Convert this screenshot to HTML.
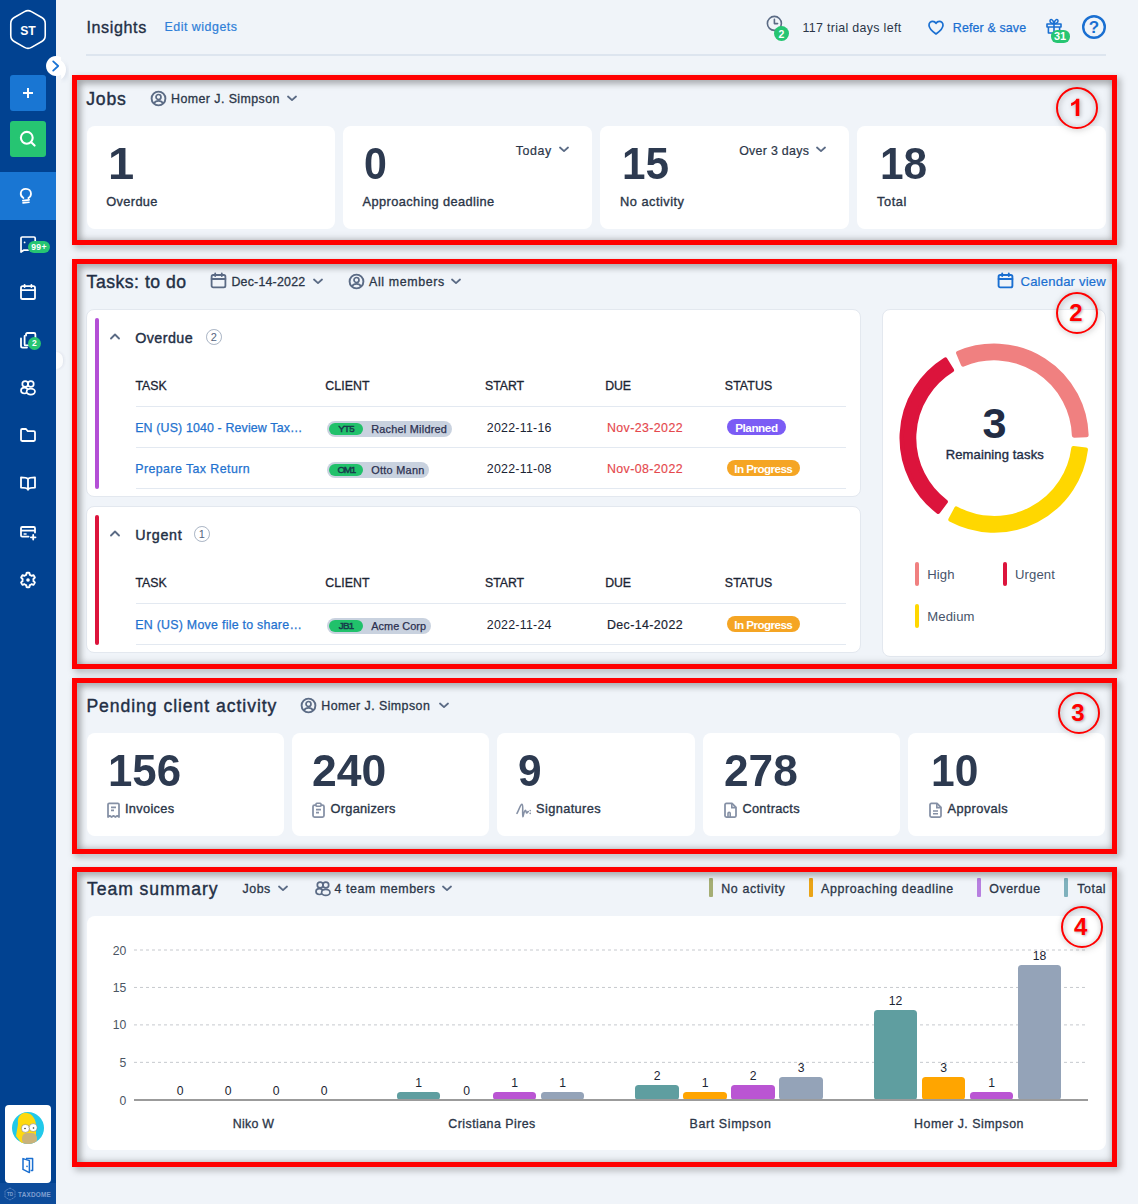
<!DOCTYPE html>
<html><head><meta charset="utf-8"><title>Insights</title>
<style>
html,body{margin:0;padding:0;}
body{width:1138px;height:1204px;position:relative;overflow:hidden;background:#f0f4f9;font-family:"Liberation Sans",sans-serif;}
.t{position:absolute;white-space:nowrap;}
.card{background:#fff;border-radius:8px;}
.red{position:absolute;border:5px solid #ff0000;box-sizing:border-box;filter:drop-shadow(3px 3px 3.5px rgba(0,0,0,0.32));pointer-events:none;}
.redin{position:absolute;box-shadow:inset 0 0 9px rgba(0,0,0,0.22);pointer-events:none;}
.ann{position:absolute;box-sizing:border-box;border:2px solid #ff0000;border-radius:50%;filter:drop-shadow(1px 1px 3px rgba(0,0,0,0.28)) drop-shadow(0 0 2px rgba(0,0,0,0.12));}
</style></head><body>
<div style="position:absolute;left:0px;top:0px;width:56px;height:1204px;background:#014291;"></div>
<svg style="position:absolute;left:0px;top:0px;" width="56" height="60" viewBox="0 0 56 60" fill="none"><path d="M24.54 11.60 Q28.00 9.60 31.46 11.60 L41.77 17.55 Q45.23 19.55 45.23 23.55 L45.23 35.45 Q45.23 39.45 41.77 41.45 L31.46 47.40 Q28.00 49.40 24.54 47.40 L14.23 41.45 Q10.77 39.45 10.77 35.45 L10.77 23.55 Q10.77 19.55 14.23 17.55 Z" stroke="#fff" stroke-width="1.6"/></svg>
<span class="t" style="left:20.20px;top:25.00px;font-size:12.2px;line-height:12.2px;color:#fff;font-weight:bold;">ST</span>
<div style="position:absolute;left:10px;top:75px;width:36px;height:36px;background:#1976d3;border-radius:3px;"></div>
<svg style="position:absolute;left:22px;top:87px;" width="12" height="12" viewBox="0 0 12 12" fill="none"><path d="M6 1 V11 M1 6 H11" stroke="#fff" stroke-width="2"/></svg>
<div style="position:absolute;left:10px;top:121px;width:36px;height:36px;background:#26c572;border-radius:3px;"></div>
<svg style="position:absolute;left:18px;top:129px;" width="20" height="20" viewBox="0 0 20 20" fill="none"><circle cx="8.8" cy="8.8" r="5.9" stroke="#fff" stroke-width="2.1"/><path d="M13.2 13.2 L16.6 16.6" stroke="#fff" stroke-width="2.1" stroke-linecap="round"/></svg>
<div style="position:absolute;left:0px;top:172px;width:56px;height:48px;background:#1976d3;"></div>
<svg style="position:absolute;left:16px;top:184px;" width="22" height="22" viewBox="0 0 22 22" fill="none"><path d="M7.4 14.0 C5.4 12.8 4.5 10.9 4.8 8.9 C5.2 6.5 7.3 4.8 9.9 4.8 C12.8 4.8 15.0 7.0 15.0 9.8 C15.0 11.7 14.0 13.2 12.4 14.1" stroke="#fff" stroke-width="1.8" stroke-linecap="round"/><path d="M6.8 16.6 L13.2 15.9 M7.0 18.9 L13.0 18.3" stroke="#fff" stroke-width="1.6" stroke-linecap="round"/></svg>
<svg style="position:absolute;left:19px;top:235px;" width="20" height="18" viewBox="0 0 20 18" fill="none"><path d="M9 15.2 H4.6 L2 17 V3.2 Q2 2 3.2 2 H15 Q16.2 2 16.2 3.2 V6" stroke="#fff" stroke-width="1.7" stroke-linejoin="round" stroke-linecap="round"/><circle cx="5.6" cy="7.4" r="0.9" fill="#fff"/></svg>
<div style="position:absolute;left:28px;top:241px;width:22px;height:11.5px;background:#26c572;border-radius:6px;"></div>
<span class="t" style="left:31.20px;top:243.00px;font-size:8.6px;line-height:8.6px;color:#fff;font-weight:bold;letter-spacing:0.337px;">99+</span>
<svg style="position:absolute;left:19px;top:283px;" width="18" height="18" viewBox="0 0 18 18" fill="none"><rect x="2" y="3.2" width="14" height="12.8" rx="1.6" stroke="#fff" stroke-width="1.8"/><path d="M2 7.2 H16 M5.6 1.8 V4 M12.4 1.8 V4" stroke="#fff" stroke-width="1.8" stroke-linecap="round"/></svg>
<svg style="position:absolute;left:19px;top:331px;" width="18" height="18" viewBox="0 0 18 18" fill="none"><path d="M7 4.6 V3.4 Q7 2 8.4 2 H15 Q16.4 2 16.4 3.4 V9" stroke="#fff" stroke-width="1.8" stroke-linecap="round"/><path d="M5.6 5 V13.4 Q5.6 14.4 6.6 14.4 H9" stroke="#fff" stroke-width="1.8" stroke-linecap="round"/><path d="M2 7.4 V15 Q2 16.6 3.6 16.6 H8" stroke="#fff" stroke-width="1.8" stroke-linecap="round"/></svg>
<div style="position:absolute;left:27.9px;top:336.5px;width:13px;height:13px;background:#26c572;border-radius:50%;"></div>
<span class="t" style="left:32.04px;top:339.00px;font-size:8.5px;line-height:8.5px;color:#fff;font-weight:bold;">2</span>
<svg style="position:absolute;left:19px;top:379px;" width="18" height="18" viewBox="0 0 18 18" fill="none"><circle cx="6.2" cy="5" r="2.9" stroke="#fff" stroke-width="1.7"/><circle cx="11.8" cy="5" r="2.9" stroke="#fff" stroke-width="1.7"/><ellipse cx="5.4" cy="11.6" rx="3.4" ry="2.9" stroke="#fff" stroke-width="1.7"/><ellipse cx="11.8" cy="12.6" rx="4.2" ry="3" stroke="#fff" stroke-width="1.7" fill="#014291"/></svg>
<svg style="position:absolute;left:19px;top:427px;" width="18" height="16" viewBox="0 0 18 16" fill="none"><path d="M2 3.2 Q2 2 3.2 2 H7 L8.8 4.2 H14.8 Q16 4.2 16 5.4 V12.8 Q16 14 14.8 14 H3.2 Q2 14 2 12.8 Z" stroke="#fff" stroke-width="1.8" stroke-linejoin="round"/></svg>
<svg style="position:absolute;left:19px;top:475px;" width="18" height="18" viewBox="0 0 18 18" fill="none"><path d="M9 4 Q7.6 2.4 2 2.4 V12.6 Q7.6 12.6 9 14.4 Q10.4 12.6 16 12.6 V2.4 Q10.4 2.4 9 4 Z M9 4 V15.6" stroke="#fff" stroke-width="1.8" stroke-linejoin="round"/></svg>
<svg style="position:absolute;left:19px;top:525px;" width="18" height="17" viewBox="0 0 18 17" fill="none"><path d="M9.6 11.6 H3.2 Q2 11.6 2 10.4 V3.2 Q2 2 3.2 2 H14.8 Q16 2 16 3.2 V7.6" stroke="#fff" stroke-width="1.8" stroke-linecap="round"/><path d="M2 5.6 H16" stroke="#fff" stroke-width="1.8"/><path d="M4.6 9 H7.6" stroke="#fff" stroke-width="1.5"/><path d="M14.2 10 V14.6 M11.9 12.3 H16.5" stroke="#fff" stroke-width="1.8" stroke-linecap="round"/></svg>
<svg style="position:absolute;left:18px;top:570px;" width="20" height="20" viewBox="0 0 20 20" fill="none"><path d="M10.00 2.75 L10.47 2.77 L10.95 2.81 L11.41 2.89 L11.64 3.87 L11.75 4.84 L12.09 4.96 L12.41 5.11 L12.72 5.28 L13.03 5.47 L13.32 5.68 L13.59 5.90 L14.49 5.51 L15.45 5.22 L15.75 5.59 L16.03 5.97 L16.28 6.37 L16.50 6.79 L16.70 7.23 L16.87 7.67 L16.13 8.36 L15.35 8.94 L15.40 9.29 L15.44 9.64 L15.45 10.00 L15.44 10.36 L15.40 10.71 L15.35 11.06 L16.13 11.64 L16.87 12.33 L16.70 12.77 L16.50 13.21 L16.28 13.62 L16.03 14.03 L15.75 14.41 L15.45 14.78 L14.49 14.49 L13.59 14.10 L13.32 14.32 L13.03 14.53 L12.72 14.72 L12.41 14.89 L12.09 15.04 L11.75 15.16 L11.64 16.13 L11.41 17.11 L10.95 17.19 L10.47 17.23 L10.00 17.25 L9.53 17.23 L9.05 17.19 L8.59 17.11 L8.36 16.13 L8.25 15.16 L7.91 15.04 L7.59 14.89 L7.28 14.72 L6.97 14.53 L6.68 14.32 L6.41 14.10 L5.51 14.49 L4.55 14.78 L4.25 14.41 L3.97 14.03 L3.72 13.63 L3.50 13.21 L3.30 12.77 L3.13 12.33 L3.87 11.64 L4.65 11.06 L4.60 10.71 L4.56 10.36 L4.55 10.00 L4.56 9.64 L4.60 9.29 L4.65 8.94 L3.87 8.36 L3.13 7.67 L3.30 7.23 L3.50 6.79 L3.72 6.37 L3.97 5.97 L4.25 5.59 L4.55 5.22 L5.51 5.51 L6.41 5.90 L6.68 5.68 L6.97 5.47 L7.27 5.28 L7.59 5.11 L7.91 4.96 L8.25 4.84 L8.36 3.87 L8.59 2.89 L9.05 2.81 L9.53 2.77 Z" stroke="#fff" stroke-width="1.9" stroke-linejoin="round"/><circle cx="10" cy="10" r="1.8" fill="#fff"/></svg>
<svg style="position:absolute;left:36px;top:46px;" width="44" height="46" viewBox="0 0 44 46" fill="none"><defs><filter id="cbs" x="-30%" y="-30%" width="160%" height="160%"><feGaussianBlur stdDeviation="2"/></filter></defs><path d="M25 11.4 L25 14.6 Q30 18 30 24 Q30 29.5 25.4 33.2 L25 30 Z" fill="#8a9ab8" opacity="0.25" filter="url(#cbs)" transform="translate(1.5 2)"/><path d="M20 10 A10 10 0 1 0 25 28.66 L25.3 33.2 Q30.2 29 30 23.4 Q29.8 17.6 25 14.6 L25 11.34 A10 10 0 0 0 20 10 Z" fill="#fff"/><path d="M17.2 15.4 L22.2 20 L17.2 24.6" stroke="#1a73d4" stroke-width="1.8" stroke-linecap="round" stroke-linejoin="round"/></svg>
<div style="position:absolute;left:56px;top:352px;width:6.5px;height:17px;background:#fff;border-radius:0 9px 9px 0;opacity:0.75;box-shadow:1px 0 3px rgba(40,60,100,0.12);"></div>
<div style="position:absolute;left:5px;top:1105px;width:46px;height:78px;background:#fff;border-radius:4px;"></div>
<svg style="position:absolute;left:12px;top:1112px;" width="32" height="32" viewBox="0 0 32 32" fill="none"><defs><clipPath id="av"><circle cx="16" cy="16" r="16"/></clipPath></defs><g clip-path="url(#av)"><rect width="32" height="32" fill="#22c9ea"/><path d="M6 12 C5 4 10 0 15 1 C21 2 24 8 24 14 L24 24 L10 32 L4 24 Z" fill="#fed90f"/><rect x="10" y="21" width="15" height="12" rx="5" fill="#c9b27a"/><circle cx="13.4" cy="16.4" r="4" fill="#fff" stroke="#555" stroke-width="0.4"/><circle cx="21.2" cy="15.6" r="4" fill="#fff" stroke="#555" stroke-width="0.4"/><circle cx="13" cy="16.5" r="0.8" fill="#333"/><circle cx="21.5" cy="16" r="0.8" fill="#333"/></g></svg>
<svg style="position:absolute;left:21px;top:1156px;" width="14" height="18" viewBox="0 0 14 18" fill="none"><path d="M5 2.4 H11.6 V14.6 H9.6" stroke="#1a6fd1" stroke-width="1.5" stroke-linejoin="round"/><path d="M2 2.6 L8.4 4.6 V16.6 L2 13.4 Z" stroke="#1a6fd1" stroke-width="1.5" stroke-linejoin="round"/><circle cx="6" cy="10.4" r="0.8" fill="#1a6fd1"/></svg>
<div style="position:absolute;left:0px;top:1183px;width:56px;height:21px;background:#0d4c9b;"></div>
<svg style="position:absolute;left:4px;top:1187px;" width="12" height="14" viewBox="0 0 12 14" fill="none"><path d="M6 1 L11 3.9 V10.1 L6 13 L1 10.1 V3.9 Z" stroke="#7f9fd0" stroke-width="0.7" stroke-dasharray="1.2 0.6"/></svg>
<span class="t" style="left:6.93px;top:1193.00px;font-size:4.6px;line-height:4.6px;color:#7f9fd0;font-weight:bold;">TD</span>
<span class="t" style="left:18.00px;top:1192.00px;font-size:6.4px;line-height:6.4px;color:#7f9fd0;font-weight:bold;letter-spacing:0.211px;">TAXDOME</span>
<span class="t" style="left:86.40px;top:19.00px;font-size:16.1px;line-height:16.1px;color:#232f45;letter-spacing:0.627px;-webkit-text-stroke:0.35px #232f45;">Insights</span>
<span class="t" style="left:164.50px;top:21.00px;font-size:12.4px;line-height:12.4px;color:#2f7fd8;letter-spacing:0.512px;-webkit-text-stroke:0.2px #2f7fd8;">Edit widgets</span>
<div style="position:absolute;left:86px;top:54px;width:1020px;height:2px;background:#dde5ef;"></div>
<svg style="position:absolute;left:765px;top:14px;" width="20" height="20" viewBox="0 0 20 20" fill="none"><circle cx="9.4" cy="9.4" r="7" stroke="#5b6b85" stroke-width="1.6"/><path d="M9.4 5.4 V9.6 H12.6" stroke="#5b6b85" stroke-width="1.6" stroke-linecap="round" stroke-linejoin="round"/></svg>
<div style="position:absolute;left:773.8px;top:26.4px;width:15px;height:15px;background:#26c572;border-radius:50%;"></div>
<span class="t" style="left:778.38px;top:29.00px;font-size:10.5px;line-height:10.5px;color:#fff;font-weight:bold;">2</span>
<span class="t" style="left:802.50px;top:22.00px;font-size:12.4px;line-height:12.4px;color:#2b3648;letter-spacing:0.325px;">117 trial days left</span>
<svg style="position:absolute;left:927px;top:19px;" width="18" height="17" viewBox="0 0 18 17" fill="none"><path d="M9 15 C4 11.4 2 8.8 2 6.2 C2 4 3.7 2.4 5.7 2.4 C7.1 2.4 8.3 3.1 9 4.4 C9.7 3.1 10.9 2.4 12.3 2.4 C14.3 2.4 16 4 16 6.2 C16 8.8 14 11.4 9 15 Z" stroke="#1a6fd1" stroke-width="1.7" stroke-linejoin="round"/></svg>
<span class="t" style="left:952.80px;top:22.00px;font-size:12.4px;line-height:12.4px;color:#1a6fd1;letter-spacing:0.152px;-webkit-text-stroke:0.25px #1a6fd1;">Refer &amp; save</span>
<svg style="position:absolute;left:1045px;top:17px;" width="18" height="18" viewBox="0 0 18 18" fill="none"><path d="M2 7 H16 V10 H2 Z M3.4 10 V16 H14.6 V10 M9 7 V16" stroke="#1a6fd1" stroke-width="1.6" stroke-linejoin="round"/><path d="M9 6.6 C7 6.6 4.6 5.6 5 3.6 C5.4 1.8 8 2 9 6.6 C10 2 12.6 1.8 13 3.6 C13.4 5.6 11 6.6 9 6.6 Z" stroke="#1a6fd1" stroke-width="1.5" stroke-linejoin="round"/></svg>
<div style="position:absolute;left:1050.5px;top:30.4px;width:19px;height:12.4px;background:#26c572;border-radius:6.2px;"></div>
<span class="t" style="left:1053.88px;top:31.00px;font-size:11px;line-height:11px;color:#fff;font-weight:bold;">31</span>
<svg style="position:absolute;left:1081px;top:14px;" width="26" height="26" viewBox="0 0 26 26" fill="none"><circle cx="13" cy="13" r="10.8" stroke="#1a6fd1" stroke-width="2.4"/></svg>
<span class="t" style="left:1088.81px;top:19.00px;font-size:17px;line-height:17px;color:#1a6fd1;font-weight:bold;">?</span>
<span class="t" style="left:86.20px;top:91.00px;font-size:17.6px;line-height:17.6px;color:#232f45;letter-spacing:0.831px;-webkit-text-stroke:0.4px #232f45;">Jobs</span>
<svg style="position:absolute;left:150.2px;top:89.5px;" width="17" height="17" viewBox="0 0 17 17" fill="none"><circle cx="8.5" cy="8.5" r="6.9" stroke="#5b6b85" stroke-width="1.9"/><circle cx="8.5" cy="7" r="2.5" stroke="#5b6b85" stroke-width="1.7"/><path d="M3.9 13.6 C5 11.4 6.6 10.9 8.5 10.9 C10.4 10.9 12 11.4 13.1 13.6" stroke="#5b6b85" stroke-width="1.7"/></svg>
<span class="t" style="left:171.00px;top:93.00px;font-size:12.4px;line-height:12.4px;color:#2b3648;letter-spacing:0.438px;-webkit-text-stroke:0.3px #2b3648;">Homer J. Simpson</span>
<svg style="position:absolute;left:287.3px;top:94.5px;" width="10" height="7.6" viewBox="0 0 10 7.6" fill="none"><path d="M1 1.5 L5.0 5.1 L9 1.5" stroke="#5b6b85" stroke-width="1.8" stroke-linecap="round" stroke-linejoin="round"/></svg>
<div class="card" style="position:absolute;left:86.5px;top:126px;width:248.5px;height:102.6px;"></div>
<div class="card" style="position:absolute;left:343.4px;top:126px;width:248.5px;height:102.6px;"></div>
<div class="card" style="position:absolute;left:600.3px;top:126px;width:248.5px;height:102.6px;"></div>
<div class="card" style="position:absolute;left:857.2px;top:126px;width:248.5px;height:102.6px;"></div>
<span class="t" style="left:107.60px;top:143.00px;font-size:43.6px;line-height:43.6px;color:#2d3a50;font-weight:bold;transform:scaleX(1.0800);transform-origin:0 50%;">1</span>
<span class="t" style="left:106.30px;top:196.00px;font-size:12.8px;line-height:12.8px;color:#2b3648;letter-spacing:0.344px;-webkit-text-stroke:0.35px #2b3648;">Overdue</span>
<span class="t" style="left:364.20px;top:143.00px;font-size:43.6px;line-height:43.6px;color:#2d3a50;font-weight:bold;transform:scaleX(0.9422);transform-origin:0 50%;">0</span>
<span class="t" style="left:362.60px;top:196.00px;font-size:12.8px;line-height:12.8px;color:#2b3648;letter-spacing:0.408px;-webkit-text-stroke:0.35px #2b3648;">Approaching deadline</span>
<span class="t" style="left:622.20px;top:143.00px;font-size:43.6px;line-height:43.6px;color:#2d3a50;font-weight:bold;transform:scaleX(0.9690);transform-origin:0 50%;">15</span>
<span class="t" style="left:620.00px;top:196.00px;font-size:12.8px;line-height:12.8px;color:#2b3648;letter-spacing:0.497px;-webkit-text-stroke:0.35px #2b3648;">No activity</span>
<span class="t" style="left:879.50px;top:143.00px;font-size:43.6px;line-height:43.6px;color:#2d3a50;font-weight:bold;transform:scaleX(0.9731);transform-origin:0 50%;">18</span>
<span class="t" style="left:877.00px;top:196.00px;font-size:12.8px;line-height:12.8px;color:#2b3648;letter-spacing:0.592px;-webkit-text-stroke:0.35px #2b3648;">Total</span>
<span class="t" style="left:515.70px;top:145.00px;font-size:12.4px;line-height:12.4px;color:#2b3648;letter-spacing:0.582px;-webkit-text-stroke:0.2px #2b3648;">Today</span>
<svg style="position:absolute;left:559.4px;top:146.3px;" width="10" height="7.6" viewBox="0 0 10 7.6" fill="none"><path d="M1 1.5 L5.0 5.1 L9 1.5" stroke="#5b6b85" stroke-width="1.8" stroke-linecap="round" stroke-linejoin="round"/></svg>
<span class="t" style="left:739.20px;top:145.00px;font-size:12.4px;line-height:12.4px;color:#2b3648;letter-spacing:0.286px;-webkit-text-stroke:0.2px #2b3648;">Over 3 days</span>
<svg style="position:absolute;left:816.3px;top:146.3px;" width="10" height="7.6" viewBox="0 0 10 7.6" fill="none"><path d="M1 1.5 L5.0 5.1 L9 1.5" stroke="#5b6b85" stroke-width="1.8" stroke-linecap="round" stroke-linejoin="round"/></svg>
<span class="t" style="left:86.60px;top:274.00px;font-size:17.6px;line-height:17.6px;color:#232f45;letter-spacing:0.507px;-webkit-text-stroke:0.4px #232f45;">Tasks: to do</span>
<svg style="position:absolute;left:210.3px;top:272.4px;" width="17" height="17" viewBox="0 0 17 17" fill="none"><rect x="1.6" y="3" width="13.8" height="12.4" rx="1.6" stroke="#5b6b85" stroke-width="1.8"/><path d="M1.6 7 H15.4 M5.2 1.4 V4 M11.8 1.4 V4" stroke="#5b6b85" stroke-width="1.8" stroke-linecap="round"/></svg>
<span class="t" style="left:231.40px;top:276.00px;font-size:12.4px;line-height:12.4px;color:#2b3648;letter-spacing:0.210px;-webkit-text-stroke:0.3px #2b3648;">Dec-14-2022</span>
<svg style="position:absolute;left:312.5px;top:277.5px;" width="10" height="7.6" viewBox="0 0 10 7.6" fill="none"><path d="M1 1.5 L5.0 5.1 L9 1.5" stroke="#5b6b85" stroke-width="1.8" stroke-linecap="round" stroke-linejoin="round"/></svg>
<svg style="position:absolute;left:347.9px;top:272.5px;" width="17" height="17" viewBox="0 0 17 17" fill="none"><circle cx="8.5" cy="8.5" r="6.9" stroke="#5b6b85" stroke-width="1.9"/><circle cx="8.5" cy="7" r="2.5" stroke="#5b6b85" stroke-width="1.7"/><path d="M3.9 13.6 C5 11.4 6.6 10.9 8.5 10.9 C10.4 10.9 12 11.4 13.1 13.6" stroke="#5b6b85" stroke-width="1.7"/></svg>
<span class="t" style="left:369.00px;top:276.00px;font-size:12.4px;line-height:12.4px;color:#2b3648;letter-spacing:0.645px;-webkit-text-stroke:0.3px #2b3648;">All members</span>
<svg style="position:absolute;left:451px;top:277.5px;" width="10" height="7.6" viewBox="0 0 10 7.6" fill="none"><path d="M1 1.5 L5.0 5.1 L9 1.5" stroke="#5b6b85" stroke-width="1.8" stroke-linecap="round" stroke-linejoin="round"/></svg>
<svg style="position:absolute;left:996.5px;top:272.4px;" width="17" height="17" viewBox="0 0 17 17" fill="none"><rect x="1.6" y="3" width="13.8" height="12.4" rx="1.6" stroke="#1a6fd1" stroke-width="1.9"/><path d="M1.6 7 H15.4 M5.2 1.4 V4 M11.8 1.4 V4" stroke="#1a6fd1" stroke-width="1.9" stroke-linecap="round"/></svg>
<span class="t" style="left:1020.50px;top:275.00px;font-size:13.1px;line-height:13.1px;color:#1a6fd1;letter-spacing:0.192px;-webkit-text-stroke:0.2px #1a6fd1;">Calendar view</span>
<div class="card" style="position:absolute;left:86px;top:309.3px;width:775.3px;height:188px;border:1px solid #e3e8ef;box-sizing:border-box;"></div>
<div class="card" style="position:absolute;left:86px;top:505.8px;width:775.3px;height:147.7px;border:1px solid #e3e8ef;box-sizing:border-box;"></div>
<div style="position:absolute;left:95px;top:318px;width:4px;height:171px;background:#b44fd6;border-radius:2px;"></div>
<div style="position:absolute;left:95px;top:515px;width:4px;height:130px;background:#dc143c;border-radius:2px;"></div>
<svg style="position:absolute;left:110.2px;top:333.1px;" width="10" height="8" viewBox="0 0 10 8" fill="none"><path d="M1 5.5 L5.0 1.5 L9 5.5" stroke="#5b6b85" stroke-width="1.8" stroke-linecap="round" stroke-linejoin="round"/></svg>
<span class="t" style="left:135.20px;top:331.00px;font-size:14.3px;line-height:14.3px;color:#232f45;letter-spacing:0.450px;-webkit-text-stroke:0.4px #232f45;">Overdue</span>
<div style="position:absolute;left:205.89999999999998px;top:329.1px;width:15.8px;height:15.8px;border:1px solid #a9b4c4;border-radius:50%;box-sizing:border-box;"></div>
<span class="t" style="left:210.74px;top:332.00px;font-size:11px;line-height:11px;color:#56657e;">2</span>
<span class="t" style="left:135.40px;top:380.00px;font-size:12.3px;line-height:12.3px;color:#1b2433;letter-spacing:0.071px;-webkit-text-stroke:0.3px #1b2433;">TASK</span>
<span class="t" style="left:325.20px;top:380.00px;font-size:12.3px;line-height:12.3px;color:#1b2433;letter-spacing:0.126px;-webkit-text-stroke:0.3px #1b2433;">CLIENT</span>
<span class="t" style="left:485.00px;top:380.00px;font-size:12.3px;line-height:12.3px;color:#1b2433;letter-spacing:-0.037px;-webkit-text-stroke:0.3px #1b2433;">START</span>
<span class="t" style="left:605.30px;top:380.00px;font-size:12.3px;line-height:12.3px;color:#1b2433;letter-spacing:-0.157px;-webkit-text-stroke:0.3px #1b2433;">DUE</span>
<span class="t" style="left:724.80px;top:380.00px;font-size:12.3px;line-height:12.3px;color:#1b2433;letter-spacing:0.134px;-webkit-text-stroke:0.3px #1b2433;">STATUS</span>
<div style="position:absolute;left:135.5px;top:405.9px;width:710px;height:1.2px;background:#e3e9f1;"></div>
<span class="t" style="left:135.20px;top:422.00px;font-size:12.4px;line-height:12.4px;color:#1f72cf;letter-spacing:0.143px;-webkit-text-stroke:0.25px #1f72cf;">EN (US) 1040 - Review Tax…</span>
<div style="position:absolute;left:327px;top:421.2px;width:125.2px;height:16px;background:#c9d2df;border-radius:8px;"></div>
<div style="position:absolute;left:329.2px;top:423.3px;width:34px;height:11.8px;background:#21c16b;border-radius:6px;"></div>
<span class="t" style="left:338.30px;top:424.00px;font-size:9.8px;line-height:9.8px;color:#173a4c;letter-spacing:-0.725px;-webkit-text-stroke:0.45px #173a4c;">YT5</span>
<span class="t" style="left:371.20px;top:424.00px;font-size:10.9px;line-height:10.9px;color:#2b3050;letter-spacing:0.236px;-webkit-text-stroke:0.25px #2b3050;">Rachel Mildred</span>
<span class="t" style="left:486.80px;top:422.00px;font-size:12.4px;line-height:12.4px;color:#1b2433;letter-spacing:0.249px;">2022-11-16</span>
<span class="t" style="left:607.00px;top:422.00px;font-size:12.4px;line-height:12.4px;color:#e5484d;letter-spacing:0.392px;-webkit-text-stroke:0.15px #e5484d;">Nov-23-2022</span>
<div style="position:absolute;left:726.6px;top:419.2px;width:59.6px;height:16px;background:#7b5cf5;border-radius:8px;"></div>
<span class="t" style="left:735.15px;top:422.00px;font-size:11.7px;line-height:11.7px;color:#fff;font-weight:bold;letter-spacing:-0.430px;">Planned</span>
<div style="position:absolute;left:135.5px;top:446.79999999999995px;width:710px;height:1.2px;background:#e3e9f1;"></div>
<span class="t" style="left:135.20px;top:463.00px;font-size:12.4px;line-height:12.4px;color:#1f72cf;letter-spacing:0.428px;-webkit-text-stroke:0.25px #1f72cf;">Prepare Tax Return</span>
<div style="position:absolute;left:327px;top:462.2px;width:101.8px;height:16px;background:#c9d2df;border-radius:8px;"></div>
<div style="position:absolute;left:329.2px;top:464.3px;width:34px;height:11.8px;background:#21c16b;border-radius:6px;"></div>
<span class="t" style="left:337.40px;top:465.00px;font-size:9.8px;line-height:9.8px;color:#173a4c;letter-spacing:-1.212px;-webkit-text-stroke:0.45px #173a4c;">OM1</span>
<span class="t" style="left:371.20px;top:465.00px;font-size:10.9px;line-height:10.9px;color:#2b3050;letter-spacing:0.290px;-webkit-text-stroke:0.25px #2b3050;">Otto Mann</span>
<span class="t" style="left:486.80px;top:463.00px;font-size:12.4px;line-height:12.4px;color:#1b2433;letter-spacing:0.249px;">2022-11-08</span>
<span class="t" style="left:607.00px;top:463.00px;font-size:12.4px;line-height:12.4px;color:#e5484d;letter-spacing:0.392px;-webkit-text-stroke:0.15px #e5484d;">Nov-08-2022</span>
<div style="position:absolute;left:726.6px;top:460.2px;width:73.5px;height:16px;background:#f5a524;border-radius:8px;"></div>
<span class="t" style="left:734.35px;top:463.00px;font-size:11.7px;line-height:11.7px;color:#fff;font-weight:bold;letter-spacing:-0.579px;">In Progress</span>
<div style="position:absolute;left:135.5px;top:487.7px;width:710px;height:1.2px;background:#e3e9f1;"></div>
<svg style="position:absolute;left:110.2px;top:530.0px;" width="10" height="8" viewBox="0 0 10 8" fill="none"><path d="M1 5.5 L5.0 1.5 L9 5.5" stroke="#5b6b85" stroke-width="1.8" stroke-linecap="round" stroke-linejoin="round"/></svg>
<span class="t" style="left:135.20px;top:528.00px;font-size:14.3px;line-height:14.3px;color:#232f45;letter-spacing:0.730px;-webkit-text-stroke:0.4px #232f45;">Urgent</span>
<div style="position:absolute;left:193.79999999999998px;top:526.0px;width:15.8px;height:15.8px;border:1px solid #a9b4c4;border-radius:50%;box-sizing:border-box;"></div>
<span class="t" style="left:198.64px;top:529.00px;font-size:11px;line-height:11px;color:#56657e;">1</span>
<span class="t" style="left:135.40px;top:577.00px;font-size:12.3px;line-height:12.3px;color:#1b2433;letter-spacing:0.071px;-webkit-text-stroke:0.3px #1b2433;">TASK</span>
<span class="t" style="left:325.20px;top:577.00px;font-size:12.3px;line-height:12.3px;color:#1b2433;letter-spacing:0.126px;-webkit-text-stroke:0.3px #1b2433;">CLIENT</span>
<span class="t" style="left:485.00px;top:577.00px;font-size:12.3px;line-height:12.3px;color:#1b2433;letter-spacing:-0.037px;-webkit-text-stroke:0.3px #1b2433;">START</span>
<span class="t" style="left:605.30px;top:577.00px;font-size:12.3px;line-height:12.3px;color:#1b2433;letter-spacing:-0.157px;-webkit-text-stroke:0.3px #1b2433;">DUE</span>
<span class="t" style="left:724.80px;top:577.00px;font-size:12.3px;line-height:12.3px;color:#1b2433;letter-spacing:0.134px;-webkit-text-stroke:0.3px #1b2433;">STATUS</span>
<div style="position:absolute;left:135.5px;top:602.8px;width:710px;height:1.2px;background:#e3e9f1;"></div>
<span class="t" style="left:135.20px;top:619.00px;font-size:12.4px;line-height:12.4px;color:#1f72cf;letter-spacing:0.264px;-webkit-text-stroke:0.25px #1f72cf;">EN (US) Move file to share…</span>
<div style="position:absolute;left:327px;top:618.2px;width:103.5px;height:16px;background:#c9d2df;border-radius:8px;"></div>
<div style="position:absolute;left:329.2px;top:620.3000000000001px;width:34px;height:11.8px;background:#21c16b;border-radius:6px;"></div>
<span class="t" style="left:338.80px;top:621.00px;font-size:9.8px;line-height:9.8px;color:#173a4c;letter-spacing:-0.696px;-webkit-text-stroke:0.45px #173a4c;">JB1</span>
<span class="t" style="left:371.20px;top:621.00px;font-size:10.9px;line-height:10.9px;color:#2b3050;letter-spacing:0.054px;-webkit-text-stroke:0.25px #2b3050;">Acme Corp</span>
<span class="t" style="left:486.80px;top:619.00px;font-size:12.4px;line-height:12.4px;color:#1b2433;letter-spacing:0.249px;">2022-11-24</span>
<span class="t" style="left:607.00px;top:619.00px;font-size:12.4px;line-height:12.4px;color:#1b2433;letter-spacing:0.392px;-webkit-text-stroke:0.2px #1b2433;">Dec-14-2022</span>
<div style="position:absolute;left:726.6px;top:616.2px;width:73.5px;height:16px;background:#f5a524;border-radius:8px;"></div>
<span class="t" style="left:734.35px;top:619.00px;font-size:11.7px;line-height:11.7px;color:#fff;font-weight:bold;letter-spacing:-0.579px;">In Progress</span>
<div style="position:absolute;left:135.5px;top:643.6999999999999px;width:710px;height:1.2px;background:#e3e9f1;"></div>
<div class="card" style="position:absolute;left:882px;top:309px;width:223.5px;height:347.5px;border:1px solid #e3e8ef;box-sizing:border-box;"></div>
<svg style="position:absolute;left:882.5px;top:309.5px;" width="223" height="347" viewBox="0 0 223 347" fill="none"><path d="M75.24 42.94 A92.39999999999999 92.39999999999999 0 0 1 203.45 125.10 L191.06 125.50 A80.0 80.0 0 0 0 80.05 54.37 Z" fill="#f08080" stroke="#f08080" stroke-width="4.4" stroke-linejoin="round"/><path d="M202.76 139.78 A92.39999999999999 92.39999999999999 0 0 1 67.52 209.58 L73.37 198.65 A80.0 80.0 0 0 0 190.46 138.21 Z" fill="#ffd700" stroke="#ffd700" stroke-width="4.4" stroke-linejoin="round"/><path d="M55.16 201.64 A92.39999999999999 92.39999999999999 0 0 1 62.32 49.62 L68.87 60.15 A80.0 80.0 0 0 0 62.66 191.77 Z" fill="#dc143c" stroke="#dc143c" stroke-width="4.4" stroke-linejoin="round"/></svg>
<span class="t" style="left:982.59px;top:402.00px;font-size:43.2px;line-height:43.2px;color:#222c44;font-weight:bold;">3</span>
<span class="t" style="left:945.65px;top:448.00px;font-size:13px;line-height:13px;color:#222c44;letter-spacing:0.147px;-webkit-text-stroke:0.35px #222c44;">Remaining tasks</span>
<div style="position:absolute;left:914.8px;top:562.3px;width:4px;height:23.5px;background:#f08080;border-radius:2px;"></div>
<span class="t" style="left:927.20px;top:568.00px;font-size:13.1px;line-height:13.1px;color:#47546b;letter-spacing:0.139px;">High</span>
<div style="position:absolute;left:1003px;top:562.3px;width:4px;height:23.5px;background:#dc143c;border-radius:2px;"></div>
<span class="t" style="left:1015.00px;top:568.00px;font-size:13.1px;line-height:13.1px;color:#47546b;letter-spacing:0.113px;">Urgent</span>
<div style="position:absolute;left:914.8px;top:604.2px;width:4px;height:23.5px;background:#ffd700;border-radius:2px;"></div>
<span class="t" style="left:927.20px;top:610.00px;font-size:13.1px;line-height:13.1px;color:#47546b;letter-spacing:0.151px;">Medium</span>
<span class="t" style="left:86.40px;top:698.00px;font-size:17.6px;line-height:17.6px;color:#232f45;letter-spacing:0.946px;-webkit-text-stroke:0.4px #232f45;">Pending client activity</span>
<svg style="position:absolute;left:300.09999999999997px;top:696.6px;" width="17" height="17" viewBox="0 0 17 17" fill="none"><circle cx="8.5" cy="8.5" r="6.9" stroke="#5b6b85" stroke-width="1.9"/><circle cx="8.5" cy="7" r="2.5" stroke="#5b6b85" stroke-width="1.7"/><path d="M3.9 13.6 C5 11.4 6.6 10.9 8.5 10.9 C10.4 10.9 12 11.4 13.1 13.6" stroke="#5b6b85" stroke-width="1.7"/></svg>
<span class="t" style="left:321.30px;top:700.00px;font-size:12.4px;line-height:12.4px;color:#2b3648;letter-spacing:0.438px;-webkit-text-stroke:0.3px #2b3648;">Homer J. Simpson</span>
<svg style="position:absolute;left:438.7px;top:701.5px;" width="10" height="7.6" viewBox="0 0 10 7.6" fill="none"><path d="M1 1.5 L5.0 5.1 L9 1.5" stroke="#5b6b85" stroke-width="1.8" stroke-linecap="round" stroke-linejoin="round"/></svg>
<div class="card" style="position:absolute;left:86.5px;top:733.2px;width:197.4px;height:102.5px;"></div>
<div class="card" style="position:absolute;left:291.9px;top:733.2px;width:197.4px;height:102.5px;"></div>
<div class="card" style="position:absolute;left:497.3px;top:733.2px;width:197.4px;height:102.5px;"></div>
<div class="card" style="position:absolute;left:702.7px;top:733.2px;width:197.4px;height:102.5px;"></div>
<div class="card" style="position:absolute;left:908.1px;top:733.2px;width:197.4px;height:102.5px;"></div>
<span class="t" style="left:108.20px;top:750.00px;font-size:43.6px;line-height:43.6px;color:#2d3a50;font-weight:bold;transform:scaleX(1.0041);transform-origin:0 50%;">156</span>
<svg style="position:absolute;left:105.6px;top:801.8px;" width="16" height="17" viewBox="0 0 16 17" fill="none"><path d="M2 2.6 Q2 1.4 3.2 1.4 H11.8 Q13 1.4 13 2.6 V15 L11.2 13.8 L9.4 15 L7.5 13.8 L5.6 15 L3.8 13.8 L2 15 Z" stroke="#8590a5" stroke-width="1.75" stroke-linejoin="round"/><path d="M5 5.4 H10 M5 8.4 H8" stroke="#8590a5" stroke-width="1.75"/></svg>
<span class="t" style="left:125.00px;top:803.00px;font-size:12.8px;line-height:12.8px;color:#2b3648;letter-spacing:0.318px;-webkit-text-stroke:0.35px #2b3648;">Invoices</span>
<span class="t" style="left:312.10px;top:750.00px;font-size:43.6px;line-height:43.6px;color:#2d3a50;font-weight:bold;transform:scaleX(1.0206);transform-origin:0 50%;">240</span>
<svg style="position:absolute;left:311.2px;top:801.8px;" width="16" height="17" viewBox="0 0 16 17" fill="none"><rect x="2" y="3" width="11" height="12" rx="1.6" stroke="#8590a5" stroke-width="1.75"/><rect x="5" y="1.2" width="5" height="3" rx="0.8" fill="#fff" stroke="#8590a5" stroke-width="1.6"/><path d="M5 7.6 H10 M5 10.6 H8" stroke="#8590a5" stroke-width="1.75"/></svg>
<span class="t" style="left:330.60px;top:803.00px;font-size:12.8px;line-height:12.8px;color:#2b3648;letter-spacing:0.240px;-webkit-text-stroke:0.35px #2b3648;">Organizers</span>
<span class="t" style="left:517.80px;top:750.00px;font-size:43.6px;line-height:43.6px;color:#2d3a50;font-weight:bold;transform:scaleX(0.9712);transform-origin:0 50%;">9</span>
<svg style="position:absolute;left:516.4px;top:801.8px;" width="16" height="17" viewBox="0 0 16 17" fill="none"><path d="M1 11.4 C3 8 4.4 2.2 6 2.4 C7.6 2.6 6 12 7 14.6 C7.6 12 8.4 8.4 9.4 8.4 C10.2 8.4 10 11 10.8 11 C11.4 11 11.6 9.8 12.2 9.6" stroke="#8590a5" stroke-width="1.6" stroke-linecap="round" stroke-linejoin="round"/><circle cx="14.2" cy="8.6" r="0.8" fill="#8590a5"/><circle cx="14.2" cy="11.4" r="0.8" fill="#8590a5"/></svg>
<span class="t" style="left:536.00px;top:803.00px;font-size:12.8px;line-height:12.8px;color:#2b3648;letter-spacing:0.380px;-webkit-text-stroke:0.35px #2b3648;">Signatures</span>
<span class="t" style="left:723.90px;top:750.00px;font-size:43.6px;line-height:43.6px;color:#2d3a50;font-weight:bold;transform:scaleX(1.0137);transform-origin:0 50%;">278</span>
<svg style="position:absolute;left:722.6px;top:801.8px;" width="16" height="17" viewBox="0 0 16 17" fill="none"><path d="M2 2.8 Q2 1.4 3.4 1.4 H9 L13 5.4 V13.8 Q13 15 11.8 15 H3.4 Q2 15 2 13.8 Z" stroke="#8590a5" stroke-width="1.75" stroke-linejoin="round"/><path d="M8.8 1.6 V5.6 H12.8" stroke="#8590a5" stroke-width="1.6"/><path d="M5 15 V11.4 Q5 10.2 6.1 10.2 Q7.2 10.2 7.2 11.4 V15" stroke="#8590a5" stroke-width="1.6"/></svg>
<span class="t" style="left:742.40px;top:803.00px;font-size:12.8px;line-height:12.8px;color:#2b3648;letter-spacing:0.303px;-webkit-text-stroke:0.35px #2b3648;">Contracts</span>
<span class="t" style="left:931.00px;top:750.00px;font-size:43.6px;line-height:43.6px;color:#2d3a50;font-weight:bold;transform:scaleX(0.9752);transform-origin:0 50%;">10</span>
<svg style="position:absolute;left:928.2px;top:801.8px;" width="16" height="17" viewBox="0 0 16 17" fill="none"><path d="M2 2.8 Q2 1.4 3.4 1.4 H9 L13 5.4 V13.8 Q13 15 11.8 15 H3.4 Q2 15 2 13.8 Z" stroke="#8590a5" stroke-width="1.75" stroke-linejoin="round"/><path d="M8.8 1.6 V5.6 H12.8" stroke="#8590a5" stroke-width="1.6"/><path d="M5 9 H10 M5 11.8 H10" stroke="#8590a5" stroke-width="1.6"/></svg>
<span class="t" style="left:947.60px;top:803.00px;font-size:12.8px;line-height:12.8px;color:#2b3648;letter-spacing:0.398px;-webkit-text-stroke:0.35px #2b3648;">Approvals</span>
<span class="t" style="left:87.00px;top:881.00px;font-size:17.6px;line-height:17.6px;color:#232f45;letter-spacing:0.934px;-webkit-text-stroke:0.4px #232f45;">Team summary</span>
<span class="t" style="left:242.40px;top:883.00px;font-size:12.4px;line-height:12.4px;color:#2b3648;letter-spacing:0.577px;-webkit-text-stroke:0.3px #2b3648;">Jobs</span>
<svg style="position:absolute;left:278.3px;top:884.5px;" width="10" height="7.6" viewBox="0 0 10 7.6" fill="none"><path d="M1 1.5 L5.0 5.1 L9 1.5" stroke="#5b6b85" stroke-width="1.8" stroke-linecap="round" stroke-linejoin="round"/></svg>
<svg style="position:absolute;left:314px;top:879.5px;" width="18" height="18" viewBox="0 0 18 18" fill="none"><circle cx="6.2" cy="5" r="2.9" stroke="#5b6b85" stroke-width="1.7"/><circle cx="11.8" cy="5" r="2.9" stroke="#5b6b85" stroke-width="1.7"/><ellipse cx="5.4" cy="11.6" rx="3.4" ry="2.9" stroke="#5b6b85" stroke-width="1.7"/><ellipse cx="11.8" cy="12.4" rx="4.2" ry="3" stroke="#5b6b85" stroke-width="1.7" fill="#f0f4f9"/></svg>
<span class="t" style="left:334.60px;top:883.00px;font-size:12.4px;line-height:12.4px;color:#2b3648;letter-spacing:0.569px;-webkit-text-stroke:0.3px #2b3648;">4 team members</span>
<svg style="position:absolute;left:442px;top:884.5px;" width="10" height="7.6" viewBox="0 0 10 7.6" fill="none"><path d="M1 1.5 L5.0 5.1 L9 1.5" stroke="#5b6b85" stroke-width="1.8" stroke-linecap="round" stroke-linejoin="round"/></svg>
<div style="position:absolute;left:709.3px;top:878.2px;width:4px;height:19.3px;background:#a5ae74;border-radius:1px;"></div>
<span class="t" style="left:721.30px;top:883.00px;font-size:12.4px;line-height:12.4px;color:#2b3648;letter-spacing:0.619px;-webkit-text-stroke:0.3px #2b3648;">No activity</span>
<div style="position:absolute;left:808.7px;top:878.2px;width:4px;height:19.3px;background:#eaa417;border-radius:1px;"></div>
<span class="t" style="left:821.00px;top:883.00px;font-size:12.4px;line-height:12.4px;color:#2b3648;letter-spacing:0.652px;-webkit-text-stroke:0.3px #2b3648;">Approaching deadline</span>
<div style="position:absolute;left:977px;top:878.2px;width:4px;height:19.3px;background:#b77fe0;border-radius:1px;"></div>
<span class="t" style="left:989.30px;top:883.00px;font-size:12.4px;line-height:12.4px;color:#2b3648;letter-spacing:0.534px;-webkit-text-stroke:0.3px #2b3648;">Overdue</span>
<div style="position:absolute;left:1064px;top:878.2px;width:4px;height:19.3px;background:#7fb1bd;border-radius:1px;"></div>
<span class="t" style="left:1077.20px;top:883.00px;font-size:12.4px;line-height:12.4px;color:#2b3648;letter-spacing:0.561px;-webkit-text-stroke:0.3px #2b3648;">Total</span>
<div class="card" style="position:absolute;left:86.5px;top:916px;width:1019px;height:233.7px;"></div>
<span class="t" style="left:112.73px;top:945.00px;font-size:12.2px;line-height:12.2px;color:#4b5563;">20</span>
<span class="t" style="left:112.73px;top:982.00px;font-size:12.2px;line-height:12.2px;color:#4b5563;">15</span>
<span class="t" style="left:112.73px;top:1019.00px;font-size:12.2px;line-height:12.2px;color:#4b5563;">10</span>
<span class="t" style="left:119.51px;top:1057.00px;font-size:12.2px;line-height:12.2px;color:#4b5563;">5</span>
<svg style="position:absolute;left:0px;top:0px;pointer-events:none;" width="1138" height="1204" viewBox="0 0 1138 1204" fill="none"><path d="M134 950.00 H1086" stroke="#c6c9ce" stroke-width="1" stroke-dasharray="3 3"/><path d="M134 987.45 H1086" stroke="#c6c9ce" stroke-width="1" stroke-dasharray="3 3"/><path d="M134 1024.90 H1086" stroke="#c6c9ce" stroke-width="1" stroke-dasharray="3 3"/><path d="M134 1062.35 H1086" stroke="#c6c9ce" stroke-width="1" stroke-dasharray="3 3"/></svg>
<span class="t" style="left:119.51px;top:1095.00px;font-size:12.2px;line-height:12.2px;color:#4b5563;">0</span>
<span class="t" style="left:176.66px;top:1085.00px;font-size:12.2px;line-height:12.2px;color:#1b2433;">0</span>
<span class="t" style="left:224.66px;top:1085.00px;font-size:12.2px;line-height:12.2px;color:#1b2433;">0</span>
<span class="t" style="left:272.66px;top:1085.00px;font-size:12.2px;line-height:12.2px;color:#1b2433;">0</span>
<span class="t" style="left:320.66px;top:1085.00px;font-size:12.2px;line-height:12.2px;color:#1b2433;">0</span>
<span class="t" style="left:232.85px;top:1118.00px;font-size:12.4px;line-height:12.4px;color:#2b3648;letter-spacing:0.241px;-webkit-text-stroke:0.3px #2b3648;">Niko W</span>
<div style="position:absolute;left:396.65000000000003px;top:1092.31px;width:43.8px;height:8.09px;background:#5f9ea0;border-radius:3.6px;"></div>
<span class="t" style="left:415.16px;top:1077.00px;font-size:12.2px;line-height:12.2px;color:#1b2433;">1</span>
<span class="t" style="left:463.16px;top:1085.00px;font-size:12.2px;line-height:12.2px;color:#1b2433;">0</span>
<div style="position:absolute;left:492.65px;top:1092.31px;width:43.8px;height:8.09px;background:#ba55d3;border-radius:3.6px;"></div>
<span class="t" style="left:511.16px;top:1077.00px;font-size:12.2px;line-height:12.2px;color:#1b2433;">1</span>
<div style="position:absolute;left:540.65px;top:1092.31px;width:43.8px;height:8.09px;background:#94a3b8;border-radius:3.6px;"></div>
<span class="t" style="left:559.16px;top:1077.00px;font-size:12.2px;line-height:12.2px;color:#1b2433;">1</span>
<span class="t" style="left:448.30px;top:1118.00px;font-size:12.4px;line-height:12.4px;color:#2b3648;letter-spacing:0.458px;-webkit-text-stroke:0.3px #2b3648;">Cristiana Pires</span>
<div style="position:absolute;left:635.15px;top:1084.82px;width:43.8px;height:15.58px;background:#5f9ea0;border-radius:3.6px;"></div>
<span class="t" style="left:653.66px;top:1070.00px;font-size:12.2px;line-height:12.2px;color:#1b2433;">2</span>
<div style="position:absolute;left:683.15px;top:1092.31px;width:43.8px;height:8.09px;background:#ffa500;border-radius:3.6px;"></div>
<span class="t" style="left:701.66px;top:1077.00px;font-size:12.2px;line-height:12.2px;color:#1b2433;">1</span>
<div style="position:absolute;left:731.15px;top:1084.82px;width:43.8px;height:15.58px;background:#ba55d3;border-radius:3.6px;"></div>
<span class="t" style="left:749.66px;top:1070.00px;font-size:12.2px;line-height:12.2px;color:#1b2433;">2</span>
<div style="position:absolute;left:779.15px;top:1077.33px;width:43.8px;height:23.07px;background:#94a3b8;border-radius:3.6px;"></div>
<span class="t" style="left:797.66px;top:1062.00px;font-size:12.2px;line-height:12.2px;color:#1b2433;">3</span>
<span class="t" style="left:689.55px;top:1118.00px;font-size:12.4px;line-height:12.4px;color:#2b3648;letter-spacing:0.631px;-webkit-text-stroke:0.3px #2b3648;">Bart Simpson</span>
<div style="position:absolute;left:873.65px;top:1009.92px;width:43.8px;height:90.47999999999999px;background:#5f9ea0;border-radius:3.6px;"></div>
<span class="t" style="left:888.76px;top:995.00px;font-size:12.2px;line-height:12.2px;color:#1b2433;">12</span>
<div style="position:absolute;left:921.65px;top:1077.33px;width:43.8px;height:23.07px;background:#ffa500;border-radius:3.6px;"></div>
<span class="t" style="left:940.16px;top:1062.00px;font-size:12.2px;line-height:12.2px;color:#1b2433;">3</span>
<div style="position:absolute;left:969.65px;top:1092.31px;width:43.8px;height:8.09px;background:#ba55d3;border-radius:3.6px;"></div>
<span class="t" style="left:988.16px;top:1077.00px;font-size:12.2px;line-height:12.2px;color:#1b2433;">1</span>
<div style="position:absolute;left:1017.65px;top:964.98px;width:43.8px;height:135.42px;background:#94a3b8;border-radius:3.6px;"></div>
<span class="t" style="left:1032.76px;top:950.00px;font-size:12.2px;line-height:12.2px;color:#1b2433;">18</span>
<span class="t" style="left:914.05px;top:1118.00px;font-size:12.4px;line-height:12.4px;color:#2b3648;letter-spacing:0.501px;-webkit-text-stroke:0.3px #2b3648;">Homer J. Simpson</span>
<div style="position:absolute;left:134px;top:1098.8px;width:954px;height:2px;background:#9b9b9b;"></div>
<div class="redin" style="left:77px;top:80px;width:1035px;height:159.5px;"></div>
<div class="red" style="left:72px;top:75px;width:1045px;height:169.5px;"></div>
<div class="redin" style="left:77px;top:264.3px;width:1035px;height:399.7px;"></div>
<div class="red" style="left:72px;top:259.3px;width:1045px;height:409.7px;"></div>
<div class="redin" style="left:77px;top:682.8px;width:1035px;height:166px;"></div>
<div class="red" style="left:72px;top:677.8px;width:1045px;height:176px;"></div>
<div class="redin" style="left:77px;top:871.5px;width:1035px;height:290.4px;"></div>
<div class="red" style="left:72px;top:866.5px;width:1045px;height:300.4px;"></div>
<div class="ann" style="left:1056px;top:86.5px;width:42px;height:42px;"></div>
<svg style="position:absolute;left:1060px;top:91px;filter:drop-shadow(1px 1px 2px rgba(0,0,0,0.28));overflow:visible;" width="30" height="32" viewBox="0 0 30 32" fill="none"><path d="M4.08 0 L0.51 0 L0.51 -12.41 Q-1.43 -10.72 -4.08 -9.91 L-4.08 -12.9 Q-2.68 -13.32 -1.05 -14.5 Q0.58 -15.68 1.18 -17.25 L4.08 -17.25 Z" fill="#ff0000" transform="translate(15.20 25)"/></svg>
<div class="ann" style="left:1056px;top:291.5px;width:42px;height:42px;"></div>
<span class="t" style="left:1069.23px;top:301.00px;font-size:24px;line-height:24px;color:#ff0000;font-weight:bold;text-shadow:1px 1px 2.5px rgba(0,0,0,0.3);">2</span>
<div class="ann" style="left:1058px;top:692px;width:42px;height:42px;"></div>
<span class="t" style="left:1071.23px;top:701.00px;font-size:24px;line-height:24px;color:#ff0000;font-weight:bold;text-shadow:1px 1px 2.5px rgba(0,0,0,0.3);">3</span>
<div class="ann" style="left:1060.6px;top:905.6px;width:42px;height:42px;"></div>
<span class="t" style="left:1073.93px;top:915.00px;font-size:24px;line-height:24px;color:#ff0000;font-weight:bold;text-shadow:1px 1px 2.5px rgba(0,0,0,0.3);">4</span>
</body></html>
